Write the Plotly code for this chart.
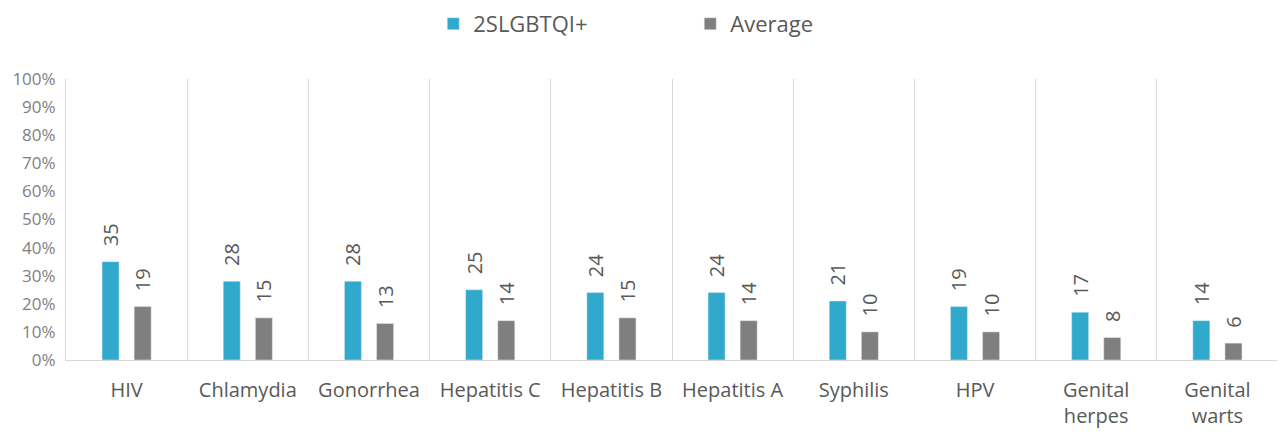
import plotly.graph_objects as go

categories = ["HIV", "Chlamydia", "Gonorrhea", "Hepatitis C", "Hepatitis B",
              "Hepatitis A", "Syphilis", "HPV", "Genital<br>herpes", "Genital<br>warts"]
lgbtq_values = [35, 28, 28, 25, 24, 24, 21, 19, 17, 14]
average_values = [19, 15, 13, 14, 15, 14, 10, 10, 8, 6]
y_ticks = list(range(0, 101, 10))
y_tick_labels = [f"{v}%" for v in y_ticks]

font_family = "Open Sans, Segoe UI, sans-serif"
label_color = "#595959"


def padded(values):
    # leading spaces lift the rotated label off the bar top
    return ["\u00a0\u00a0\u200a" + str(v) for v in values]


fig = go.Figure()
fig.add_trace(go.Bar(
    name="2SLGBTQI+", x=categories, y=lgbtq_values, marker_color="#31A9CD",
    text=padded(lgbtq_values), textposition="outside", textangle=-90, constraintext="none",
    textfont=dict(size=20, color=label_color), cliponaxis=False,
))
fig.add_trace(go.Bar(
    name="Average", x=categories, y=average_values, marker_color="#7F7F7F",
    text=padded(average_values), textposition="outside", textangle=-90, constraintext="none",
    textfont=dict(size=20, color=label_color), cliponaxis=False,
))

fig.update_layout(
    width=1285, height=432,
    margin=dict(l=58, r=15, t=71, b=80, autoexpand=False),
    plot_bgcolor="white", paper_bgcolor="white",
    font=dict(family=font_family, color=label_color),
    barmode="group", bargap=0.47, bargroupgap=0.47,
    legend=dict(orientation="h", x=0.303, xanchor="left", y=1.196, yanchor="middle",
                font=dict(size=22, color=label_color), entrywidth=212,
                traceorder="normal"),
    xaxis=dict(tickson="boundaries", showgrid=True, gridcolor="#D9D9D9", gridwidth=1,
               showline=True, linecolor="#D9D9D9", linewidth=1, ticks="",
               tickfont=dict(size=20, color=label_color), ticklabelstandoff=12,
               automargin=False),
    yaxis=dict(range=[0, 100], tickvals=y_ticks, ticktext=y_tick_labels, showgrid=False,
               showline=True, linecolor="#D9D9D9", linewidth=1, zeroline=False,
               tickfont=dict(size=17, color="#7F7F7F"), ticklabelstandoff=6,
               automargin=False),
)

fig.write_html("out.html")
